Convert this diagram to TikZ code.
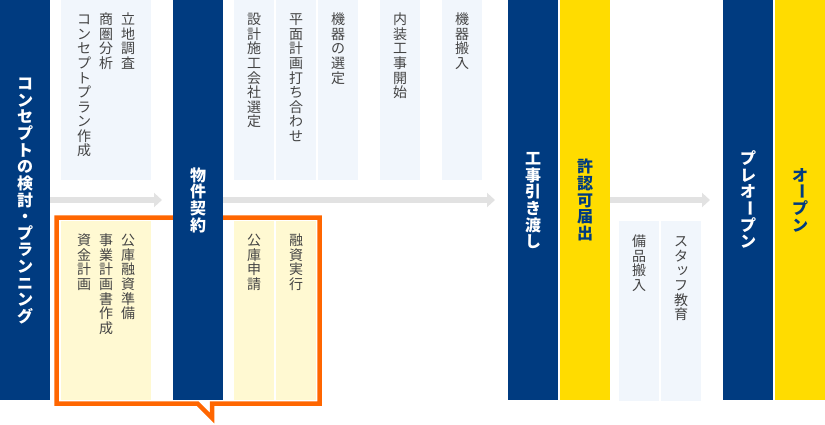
\documentclass[tikz,border=0pt]{standalone}
\usepackage{fontspec}
\setmainfont{Noto Sans CJK JP}
\usepackage{graphicx}
\usetikzlibrary{arrows.meta}
\definecolor{navy}{HTML}{003B80}
\definecolor{ybar}{HTML}{FFDC00}
\definecolor{lblue}{HTML}{F1F6FC}
\definecolor{lyel}{HTML}{FFF9D2}
\definecolor{garr}{HTML}{E2E2E2}
\definecolor{orng}{HTML}{FF6600}
\definecolor{txtgrey}{HTML}{444444}
\newdimen\vpitch
\makeatletter
\def\vstkend{\vstkend}
\def\vstk#1{\vtop{\offinterlineskip\vpitch=1.04em\vstk@loop#1\vstkend}}
\def\vstk@loop#1{\ifx#1\vstkend\else\hbox to 1em{\vrule height \dimexpr 0.88em+(\vpitch-1em)/2\relax depth \dimexpr 0.12em+(\vpitch-1em)/2\relax width 0pt\hss#1\hss}\expandafter\vstk@loop\fi}
\makeatother
\newcommand\vlong{\rotatebox[x=0.5em,y=0.38em]{-90}{ー}}
\newcommand\vtsu{\hbox to 1em{\hskip0.12em\raisebox{0.1em}{ッ}\hss}}
\newcommand\hdrfont{\fontsize{16pt}{16pt}\selectfont\bfseries}
\newcommand\celfont{\fontsize{14pt}{14pt}\selectfont}
\begin{document}
\begin{tikzpicture}[x=1pt,y=-1pt,
  bar/.style={minimum width=50pt, minimum height=400pt, inner sep=0pt, outer sep=0pt, font=\hdrfont},
  navybar/.style={bar, fill=navy, text=white},
  yellowbar/.style={bar, fill=ybar, text=navy},
  cellb/.style={anchor=north west, inner sep=0pt, outer sep=0pt, fill=lblue},
  celly/.style={cellb, fill=lyel},
  ctext/.style={anchor=north, inner sep=0pt, text=txtgrey, font=\celfont},
  garrow/.style={draw=garr, line width=6pt, -{Triangle[length=8pt,width=14pt]}},
  callout/.style={draw=orng, line width=4.5pt, miter limit=10}]
\useasboundingbox (0,0) rectangle (825,425);
% callout frame
\draw[callout] (56.5,217.5) -- (319.5,217.5) -- (319.5,403.5) -- (212,403.5) -- (212,418) -- (197.5,403.5) -- (56.5,403.5) -- cycle;
% top cells
\node[cellb, minimum width=90pt, minimum height=180pt] (c1) at (61,0) {};
\node[cellb, minimum width=40pt, minimum height=180pt] (c2) at (234,0) {};
\node[cellb, minimum width=40pt, minimum height=180pt] (c3) at (276,0) {};
\node[cellb, minimum width=40pt, minimum height=180pt] (c4) at (318,0) {};
\node[cellb, minimum width=40pt, minimum height=180pt] (c5) at (380,0) {};
\node[cellb, minimum width=40pt, minimum height=180pt] (c6) at (442,0) {};
% bottom cells
\node[celly, minimum width=90pt, minimum height=179pt] (y1) at (61,221) {};
\node[celly, minimum width=40pt, minimum height=179pt] (y2) at (234,221) {};
\node[celly, minimum width=40pt, minimum height=179pt] (y3) at (276,221) {};
\node[cellb, minimum width=40pt, minimum height=180pt] (d1) at (619,221) {};
\node[cellb, minimum width=40pt, minimum height=180pt] (d2) at (661,221) {};
% cell texts
\node[ctext] (tc1) at ([yshift=-12pt]c1.north) {\vstk{コンセプトプラン作成}\hskip8pt\vstk{商圏分析}\hskip8pt\vstk{立地調査}};
\node[ctext] (tc2) at ([yshift=-12pt]c2.north) {\vstk{設計施工会社選定}};
\node[ctext] (tc3) at ([yshift=-12pt]c3.north) {\vstk{平面計画打ち合わせ}};
\node[ctext] (tc4) at ([yshift=-12pt]c4.north) {\vstk{機器の選定}};
\node[ctext] (tc5) at ([yshift=-12pt]c5.north) {\vstk{内装工事開始}};
\node[ctext] (tc6) at ([yshift=-12pt]c6.north) {\vstk{機器搬入}};
\node[ctext] (ty1) at ([yshift=-12pt]y1.north) {\vstk{資金計画}\hskip8pt\vstk{事業計画書作成}\hskip8pt\vstk{公庫融資準備}};
\node[ctext] (ty2) at ([yshift=-12pt]y2.north) {\vstk{公庫申請}};
\node[ctext] (ty3) at ([yshift=-12pt]y3.north) {\vstk{融資実行}};
\node[ctext] (td1) at ([yshift=-13pt]d1.north) {\vstk{備品搬入}};
\node[ctext] (td2) at ([yshift=-13pt]d2.north) {\vstk{スタ\vtsu フ教育}};
% bars
\node[navybar] (b1) at (25,200) {\vstk{コンセプトの検討・プランニング}};
\node[navybar] (b2) at (198,200) {\vstk{物件契約}};
\node[navybar] (b3) at (533,200) {\vstk{工事引き渡し}};
\node[yellowbar] (b4) at (585,200) {\vstk{許認可届出}};
\node[navybar] (b5) at (748,200) {\vstk{プレオ\vlong プン}};
\node[yellowbar] (b6) at (800,200) {\vstk{オ\vlong プン}};
% arrows
\draw[garrow, shorten >=11pt] (b1.east) -- (b2.west);
\draw[garrow, shorten >=13pt] (b2.east) -- (b3.west);
\draw[garrow, shorten >=13pt] (b4.east) -- (b5.west);
\end{tikzpicture}
\end{document}
